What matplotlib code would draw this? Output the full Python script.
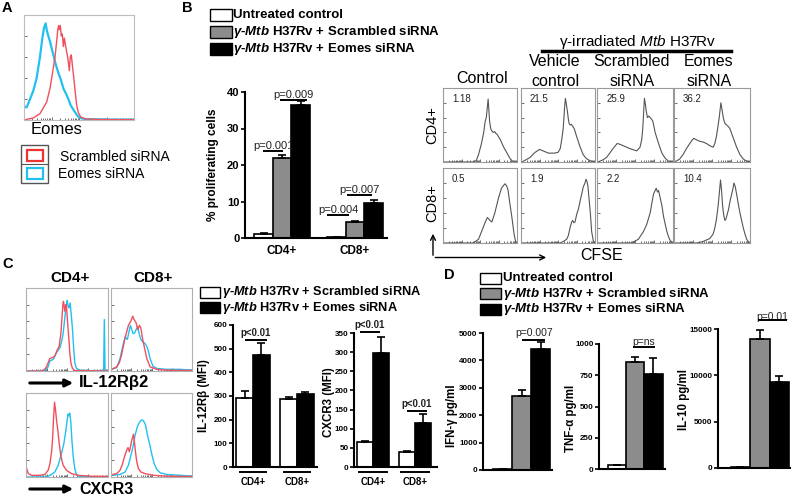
import numpy as np
import matplotlib
matplotlib.use('Agg')
import matplotlib.pyplot as plt
from matplotlib.patches import Rectangle, FancyArrowPatch
from matplotlib.lines import Line2D
import matplotlib.transforms as mtransforms
from matplotlib import font_manager

plt.rcParams['font.family'] = ['Liberation Sans', 'DejaVu Sans']
plt.rcParams['mathtext.fontset'] = 'custom'
plt.rcParams['mathtext.rm'] = 'Liberation Sans'
plt.rcParams['mathtext.it'] = 'Liberation Sans:italic:bold'
plt.rcParams['mathtext.sf'] = 'Liberation Sans:italic'
plt.rcParams['mathtext.bf'] = 'Liberation Sans:bold'

_names = {f.name for f in font_manager.fontManager.ttflist}
NARROW = ['Liberation Sans Narrow', 'Liberation Sans'] if 'Liberation Sans Narrow' in _names else ['Liberation Sans']

# ---------------- DATA ----------------
# Panel A histograms (x: % of fluorescence range, y: % of max)
a_scr_x = [0, 8.5, 14.5, 20.6, 23.6, 25.2, 26.7, 28.2, 29.7, 30.6, 31.5, 32.1, 33.0, 33.9, 34.8, 35.8,
           36.7, 37.6, 38.8, 40.0, 41.2, 42.1, 43.0, 44.2, 45.5, 46.7, 47.9, 49.4, 51.5, 55.5, 69.1, 100]
a_scr_y = [0, 2, 6, 17, 30, 40, 50, 60, 75, 85, 90, 86, 90, 80, 82, 70,
           78, 72, 65, 58, 47, 60, 62, 50, 38, 25, 14, 7, 3, 1, 0.5, 0.3]
a_eom_x = [0, 2.4, 5.5, 8.5, 11.5, 14.5, 16.7, 18.2, 19.7, 20.6, 22.1, 23.6, 25.2, 26.7, 29.1, 31.2,
           33.6, 35.8, 38.2, 40.3, 42.4, 44.8, 47.3, 49.4, 52.4, 57, 69, 100]
a_eom_y = [13, 12, 20, 28, 40, 60, 78, 88, 92, 86, 80, 75, 68, 62, 52, 45,
           38, 30, 25, 20, 14, 10, 6, 3, 1.5, 0.8, 0.5, 0.3]

# Panel B bar chart
b_groups = ['CD4+', 'CD8+']
b_untreated = [1.2, 0.2]
b_untreated_err = [0.3, 0.0]
b_scrambled = [21.8, 4.3]
b_scrambled_err = [1.0, 0.4]
b_eomes = [36.5, 9.5]
b_eomes_err = [1.0, 1.0]
b_pvals = ['p=0.001', 'p=0.009', 'p=0.004', 'p=0.007']
b_pline_y = [23.9, 37.8, 6.2, 11.9]
b_pline_x = [(-0.26, 0.014), (-0.027, 0.342), (0.616, 0.918), (0.89, 1.233)]

# Panel B CFSE histograms
b_cols = ['Control', 'Vehicle\ncontrol', 'Scrambled\nsiRNA', 'Eomes\nsiRNA']
b_rows = ['CD4+', 'CD8+']
b_pct = [['1.18', '21.5', '25.9', '36.2'], ['0.5', '1.9', '2.2', '10.4']]
cd4_ctrl_x = [0, 41, 45, 48, 52, 55, 57, 58.5, 60, 61, 62, 63, 64.5, 66, 68, 70, 71, 72.5, 74, 77.5, 82, 86.5, 91, 95.5, 100]
cd4_ctrl_y = [0, 0, 2, 10, 25, 40, 55, 60, 75, 85, 70, 55, 45, 42, 40, 41, 39, 38, 36, 30, 20, 12, 4, 0, 0]
cd4_veh_x = [0, 1, 5, 12, 19, 25, 30, 37, 45, 50, 53, 55, 57, 58, 59, 60, 61, 62.5, 64, 65, 66.5, 68, 70, 72, 75, 80, 84, 88, 91, 95, 98, 100]
cd4_veh_y = [0, 0, 2, 6, 13, 17, 15, 12, 12, 13, 18, 30, 45, 60, 75, 86, 80, 70, 58, 52, 50, 51, 48, 45, 35, 20, 10, 5, 3, 1, 0, 0]
cd4_scr_x = [0, 1.3, 8, 12.4, 16.8, 21, 26.5, 30, 34.5, 43.4, 52.2, 56.6, 58.8, 60.2, 61, 62.4, 63.7, 64.6, 66.4, 68, 70,
             71.7, 73.5, 76.5, 81, 85.4, 89.8, 94.2, 98.7, 100]
cd4_scr_y = [0, 0, 3, 6, 12, 18, 25, 24, 22, 18, 15, 20, 30, 45, 60, 86, 78, 70, 60, 62, 60,
             58, 55, 40, 25, 12, 5, 1, 0, 0]
cd4_eom_x = [0, 0.9, 7.5, 11.9, 16.3, 20.7, 24.2, 26, 29.5, 33.9, 38.3, 42.7, 47.1, 51.5, 53.7, 55.9, 58.1, 59.5, 61.7, 63,
             64.8, 67, 69.2, 71.4, 73.6, 77.1, 82.4, 86.8, 91.2, 95.6, 99, 100]
cd4_eom_y = [0, 0, 4, 10, 18, 25, 30, 32, 30, 28, 27, 25, 22, 20, 25, 35, 50, 60, 80, 72,
             60, 52, 50, 48, 45, 35, 20, 10, 4, 1, 0, 0]
cd8_ctrl_x = [0, 41, 48, 54, 58, 60, 63.5, 66, 70, 75, 79, 82, 84, 86, 88, 90, 93, 96, 98.5, 100]
cd8_ctrl_y = [0, 0, 5, 20, 30, 34, 30, 28, 40, 60, 73, 77, 79, 76, 70, 55, 35, 12, 0, 0]
cd8_veh_x = [0, 52.7, 57.2, 61.7, 64, 66.2, 68.5, 69.8, 71.6, 73, 75.2, 77.5, 79.7, 82, 84.2, 86.5, 87.8, 89.2, 90.5,
             92.3, 93.7, 95.5, 97.7, 100]
cd8_veh_y = [0, 0, 2, 5, 10, 20, 28, 30, 27, 28, 38, 45, 55, 65, 75, 80, 85, 82, 75,
             55, 40, 15, 3, 0]
cd8_scr_x = [0, 45.6, 54.4, 61, 65.5, 69.9, 72, 74.3, 76.5, 77.9, 79.6, 81, 83.2, 85.4, 87.6, 89.8, 92, 94.2, 96.5, 98.7, 100]
cd8_scr_y = [0, 0, 5, 15, 25, 40, 52, 65, 70, 73, 68, 70, 60, 50, 35, 25, 15, 8, 3, 1, 0]
cd8_eom_x = [0, 29.5, 38.3, 47.1, 51.5, 53.7, 55.9, 58.1, 59.5, 61.2, 62.6, 63.9, 65.6, 67, 68.3, 70, 71.8, 73.6, 75.8,
             77.1, 78.9, 80.6, 82.4, 84.6, 86.8, 89, 91.2, 93.4, 95.6, 99, 100]
cd8_eom_y = [0, 0, 2, 6, 12, 20, 32, 50, 65, 84, 70, 50, 36, 30, 32, 38, 45, 55, 65,
             70, 80, 75, 65, 52, 40, 30, 20, 12, 5, 0, 0]

# Panel C histograms (red = scrambled siRNA, cyan = Eomes siRNA)
c_il_cd4_scr_x = [0, 21, 25, 29, 32, 35, 38, 40.5, 42.5, 43.7, 45, 45.7, 46.6, 47.4, 48.6, 49.4, 50.6, 52.2, 53.4, 54.7, 56.7, 59.5, 100]
c_il_cd4_scr_y = [0, 0, 5, 15, 16, 18, 25, 30, 45, 62, 80, 84, 78, 72, 80, 78, 60, 40, 22, 10, 3, 0.5, 0]
c_il_cd4_eom_x = [0, 23, 27, 29, 33.2, 37.2, 41.3, 43.3, 45.3, 46.9, 48.2, 49.4, 50.2, 51.4, 52.6, 53.8, 55, 56.7, 58.3,
                  59.5, 61.5, 65.6, 73.7, 94.7, 95.5, 96.4, 100]
c_il_cd4_eom_y = [0, 0, 5, 12, 14, 22, 28, 35, 45, 60, 72, 80, 85, 78, 76, 82, 70, 50, 25,
                  10, 3, 1, 0.5, 0.5, 62, 0.5, 0.3]
c_il_cd8_scr_x = [0.8, 7, 10.3, 13.2, 17.4, 21.5, 24.4, 26.9, 28.5, 31, 33, 35.1, 36.8, 38.8, 40.9, 44.2, 48.3, 56.6, 69, 100]
c_il_cd8_scr_y = [2, 5, 10, 20, 40, 55, 60, 66, 62, 58, 50, 55, 52, 40, 30, 15, 5, 2, 1, 0.5]
c_il_cd8_eom_x = [0.8, 7, 11.2, 14.5, 17.4, 20.2, 22.3, 24, 25.6, 27.3, 29.3, 31, 33, 34.7, 36.8, 39.3, 42.1, 45, 48.3,
                  51.7, 56.6, 69, 85.5, 100]
c_il_cd8_eom_y = [2, 4, 15, 30, 41, 38, 48, 55, 50, 45, 46, 50, 53, 45, 38, 35, 33, 28, 15,
                  6, 3, 2, 2, 1]
c_cx_cd4_scr_x = [0.8, 2.8, 6.9, 17, 23, 27, 29, 31.2, 32.4, 33.6, 34.8, 36, 37.2, 38.9, 40.5, 42.5, 45.3, 49.4, 55.5,
                  63.6, 77.7, 100]
c_cx_cd4_scr_y = [10, 4, 2, 2, 3, 8, 15, 30, 45, 70, 89, 80, 68, 55, 40, 25, 14, 8, 4,
                  2, 1, 0.5]
c_cx_cd4_eom_x = [0, 25, 31.2, 35.2, 39.3, 43.3, 46.2, 48.6, 50.2, 51.4, 52.2, 53.4, 54.7, 55.9, 57.5, 59.5, 61.5, 65.6, 100]
c_cx_cd4_eom_y = [0, 0, 3, 6, 14, 28, 40, 55, 68, 75, 73, 76, 65, 45, 25, 10, 3, 0.5, 0]
c_cx_cd8_scr_x = [2, 7, 11.2, 14, 16.9, 19.4, 21, 22.7, 24.4, 26, 27.7, 28.9, 30.2, 31.8, 33.9, 36.8, 42.1, 52.5, 69, 100]
c_cx_cd8_scr_y = [3, 4, 8, 15, 25, 32, 35, 30, 38, 45, 51, 42, 30, 18, 10, 6, 4, 2, 1, 0.5]
c_cx_cd8_eom_x = [2, 11.2, 17.4, 21.5, 24.4, 26.9, 29.8, 32.6, 35.1, 37.6, 40.1, 42.6, 45, 47.5, 50.4, 53.3, 56.6, 60.7,
                  69, 85.5, 100]
c_cx_cd8_eom_y = [2, 3, 6, 14, 25, 35, 50, 60, 65, 68, 67, 62, 50, 40, 27, 16, 9, 5,
                  3, 2, 1]

# Panel C bar charts (MFI)
c_groups = ['CD4+', 'CD8+']
c_il12_scr = [293, 289]
c_il12_scr_err = [27, 5]
c_il12_eom = [473, 308]
c_il12_eom_err = [52, 8]
c_cxcr3_scr = [64, 38]
c_cxcr3_scr_err = [3, 5]
c_cxcr3_eom = [297, 115]
c_cxcr3_eom_err = [43, 23]

# Panel D cytokines (untreated, scrambled, Eomes)
d_ifng = [50, 2700, 4400]
d_ifng_err = [0, 230, 260]
d_tnfa = [30, 860, 760]
d_tnfa_err = [0, 35, 125]
d_il10 = [100, 13900, 9300]
d_il10_err = [0, 1000, 600]

# ---------------- FIGURE ----------------
W, H = 800, 495
fig = plt.figure(figsize=(8, 4.95), dpi=100)

RED = '#f0505e'
CYAN = '#22c0f0'
GRAY = '#8c8c8c'


def rect(x0, y0, x1, y1):
    return [x0 / W, 1 - y1 / H, (x1 - x0) / W, (y1 - y0) / H]


def T(x, y, s, **kw):
    kw.setdefault('va', 'center')
    return fig.text(x / W, 1 - y / H, s, **kw)


def fbox(x0, y0, x1, y1, **kw):
    fig.add_artist(Rectangle((x0 / W, 1 - y1 / H), (x1 - x0) / W, (y1 - y0) / H,
                             transform=fig.transFigure, **kw))


def fline(xs, ys, **kw):
    fig.add_artist(Line2D([x / W for x in xs], [1 - y / H for y in ys], transform=fig.transFigure, **kw))


def farrow(x0, y0, x1, y1, **kw):
    fig.add_artist(FancyArrowPatch((x0 / W, 1 - y0 / H), (x1 / W, 1 - y1 / H),
                                   transform=fig.transFigure, **kw))


def hist_ax(r, curves, frame='#a0a0a0'):
    ax = fig.add_axes(rect(*r))
    for xs, ys, c, lw in curves:
        ax.plot(xs, ys, color=c, lw=lw, solid_joinstyle='round')
    ax.set_xlim(0, 100)
    ax.set_ylim(0, 100)
    ax.set_xticks(np.arange(0, 101, 25))
    minor = [d + 25 * np.log10(k) for d in (0, 25, 50, 75) for k in range(2, 10)]
    ax.set_xticks(minor, minor=True)
    ax.set_yticks(np.arange(0, 101, 20))
    ax.tick_params(which='both', direction='in', labelleft=False, labelbottom=False,
                   color='#555555', width=0.6)
    ax.tick_params(which='major', length=2.5)
    ax.tick_params(which='minor', length=1.3)
    for s in ax.spines.values():
        s.set_color(frame)
        s.set_linewidth(0.8)
    return ax


def bar_ax(r, xlim, ylim, yticks, fs, family=None):
    ax = fig.add_axes(rect(*r))
    ax.set_xlim(*xlim)
    ax.set_ylim(*ylim)
    for s in ('top', 'right'):
        ax.spines[s].set_visible(False)
    for s in ('left', 'bottom'):
        ax.spines[s].set_linewidth(1.5)
    ax.set_xticks([])
    ax.set_yticks(yticks)
    kw = {}
    if family is not None:
        kw['family'] = family
    ax.set_yticklabels([str(t) for t in yticks], fontsize=fs, fontweight='bold', **kw)
    ax.tick_params(axis='y', length=3, width=1.2, pad=1)
    ax.patch.set_alpha(0)
    return ax


def draw_bars(ax, xs, vals, errs, color, w):
    ax.bar(xs, vals, w, color=color, edgecolor='black', linewidth=1.2, zorder=2, clip_on=False)
    ax.errorbar(xs, vals, yerr=[np.zeros(len(vals)), errs], fmt='none', ecolor='black',
                elinewidth=1.2, capsize=3, capthick=1.2, zorder=3, clip_on=False)


def pmark(ax, x0, x1, y, label, fs, weight='normal', gap=0):
    ax.plot([x0, x1], [y, y], color='black', lw=1.4, clip_on=False, solid_capstyle='butt', zorder=4)
    tr = mtransforms.offset_copy(ax.transData, fig=fig, x=0, y=gap, units='dots')
    ax.text((x0 + x1) / 2, y, label, transform=tr, ha='center', va='bottom', fontsize=fs,
            fontweight=weight, color='#222222', clip_on=False)


# ===== Panel letters =====
for letter, (x, y) in zip('ABCD', [(7, 8), (187, 8), (8, 264), (449, 275)]):
    T(x, y, letter, ha='center', fontsize=10.5, fontweight='bold')

# ===== Panel A =====
axA = hist_ax((24, 15, 134, 120), [(a_eom_x, a_eom_y, CYAN, 1.6), (a_scr_x, a_scr_y, RED, 1.0)],
              frame='#bdbdbd')
T(31, 130, 'Eomes', ha='left', fontsize=12)
fbox(21, 145, 48, 183, fill=False, edgecolor='#555555', lw=1.0)
fline([21, 48], [164, 164], color='#555555', lw=0.8)
fbox(27, 150, 43, 161, fill=False, edgecolor='#ee3333', lw=1.6)
fbox(27, 168, 43, 179, fill=False, edgecolor=CYAN, lw=1.6)
T(60, 157, 'Scrambled siRNA', ha='left', fontsize=10)
T(58, 174, 'Eomes siRNA', ha='left', fontsize=10)

# ===== Panel B legend =====
leg_b = ['Untreated control', r'$\mathit{\gamma}$-$\mathit{Mtb}$ H37Rv + Scrambled siRNA',
         r'$\mathit{\gamma}$-$\mathit{Mtb}$ H37Rv + Eomes siRNA']
for (lab, col), yc in zip(zip(leg_b, ['white', GRAY, 'black']), [15, 32, 49]):
    fbox(210, yc - 5.5, 232, yc + 5.5, facecolor=col, edgecolor='black', lw=1.0)
    T(233, yc, lab, ha='left', fontsize=9.5, fontweight='bold')

# ===== Panel B bar chart =====
axB = bar_ax((245, 92, 387, 238), (-0.507, 1.438), (0, 40), [0, 10, 20, 30, 40], 8)
wB = 0.2534
xg = np.arange(len(b_groups))
draw_bars(axB, xg - wB, b_untreated, b_untreated_err, 'white', wB)
draw_bars(axB, xg, b_scrambled, b_scrambled_err, GRAY, wB)
draw_bars(axB, xg + wB, b_eomes, b_eomes_err, 'black', wB)
for lab, yv, (x0, x1) in zip(b_pvals, b_pline_y, b_pline_x):
    pmark(axB, x0, x1, yv, lab, 8, gap=0)
trB = mtransforms.blended_transform_factory(axB.transData, axB.transAxes)
for g, lab in zip(xg, b_groups):
    axB.text(g, -0.09, lab, transform=trB, ha='center', va='center', fontsize=8.5, fontweight='bold')
T(213, 165, '% proliferating cells', ha='center', rotation=90, fontsize=8.5, fontweight='bold')

# ===== Panel B CFSE histograms =====
b_col_px = [(443, 517), (521, 595), (597, 673), (674, 750)]
b_row_px = [(88, 162), (168, 243)]
b_curves = [[(cd4_ctrl_x, cd4_ctrl_y), (cd4_veh_x, cd4_veh_y), (cd4_scr_x, cd4_scr_y), (cd4_eom_x, cd4_eom_y)],
            [(cd8_ctrl_x, cd8_ctrl_y), (cd8_veh_x, cd8_veh_y), (cd8_scr_x, cd8_scr_y), (cd8_eom_x, cd8_eom_y)]]
for ri, (y0, y1) in enumerate(b_row_px):
    for ci, (x0, x1) in enumerate(b_col_px):
        cx, cy = b_curves[ri][ci]
        ax = hist_ax((x0, y0, x1, y1), [(cx, cy, '#555555', 0.8)], frame='#9a9a9a')
        ax.text(0.12, 0.85, b_pct[ri][ci], transform=ax.transAxes, ha='left', va='center',
                fontsize=7, color='#222222')
T(482, 78.5, b_cols[0], ha='center', fontsize=11.5)
for (x0, x1), lab in zip(b_col_px[1:], b_cols[1:]):
    l1, l2 = lab.split('\n')
    T((x0 + x1) / 2 - 3, 61.5, l1, ha='center', fontsize=11.5)
    T((x0 + x1) / 2 - 3, 81.5, l2, ha='center', fontsize=11.5)
T(637, 42, r'γ-irradiated $\mathsf{Mtb}$ H37Rv', ha='center', fontsize=11)
fline([542, 731], [51, 51], color='black', lw=2.5)
for lab, yc in zip(b_rows, [125, 203]):
    T(432, yc, lab, ha='center', rotation=90, fontsize=10.5)
farrow(433, 258, 433, 231, arrowstyle='->', mutation_scale=9, lw=1.0, color='black')
farrow(432.5, 257.5, 549, 257.5, arrowstyle='->', mutation_scale=9, lw=1.0, color='black')
T(602, 256, 'CFSE', ha='center', fontsize=11.5)

# ===== Panel C histograms =====
T(70, 278, 'CD4+', ha='center', fontsize=11, fontweight='bold')
T(153, 278, 'CD8+', ha='center', fontsize=11, fontweight='bold')
c_col_px = [(26, 108), (111, 192)]
c_row_px = [(288, 371), (393, 477)]
c_curves = [[(c_il_cd4_scr_x, c_il_cd4_scr_y, c_il_cd4_eom_x, c_il_cd4_eom_y),
             (c_il_cd8_scr_x, c_il_cd8_scr_y, c_il_cd8_eom_x, c_il_cd8_eom_y)],
            [(c_cx_cd4_scr_x, c_cx_cd4_scr_y, c_cx_cd4_eom_x, c_cx_cd4_eom_y),
             (c_cx_cd8_scr_x, c_cx_cd8_scr_y, c_cx_cd8_eom_x, c_cx_cd8_eom_y)]]
for ri, (y0, y1) in enumerate(c_row_px):
    for ci, (x0, x1) in enumerate(c_col_px):
        sx, sy, ex, ey = c_curves[ri][ci]
        hist_ax((x0, y0, x1, y1), [(ex, ey, CYAN, 1.0), (sx, sy, RED, 1.0)], frame='#b0b0b0')
farrow(27, 383, 76, 383, arrowstyle='-|>', mutation_scale=11, lw=2.2, color='black')
T(79, 382, 'IL-12Rβ2', ha='left', fontsize=12, fontweight='bold')
farrow(27, 489, 76, 489, arrowstyle='-|>', mutation_scale=11, lw=2.2, color='black')
T(79, 489, 'CXCR3', ha='left', fontsize=11.5, fontweight='bold')

# ===== Panel C legend & bars =====
leg_c = [r'$\mathit{\gamma}$-$\mathit{Mtb}$ H37Rv + Scrambled siRNA',
         r'$\mathit{\gamma}$-$\mathit{Mtb}$ H37Rv + Eomes siRNA']
for (lab, col), yc in zip(zip(leg_c, ['white', 'black']), [292.5, 307.5]):
    fbox(200, yc - 5.5, 220, yc + 5.5, facecolor=col, edgecolor='black', lw=1.0)
    T(222, yc, lab, ha='left', fontsize=9.2, fontweight='bold')


def c_panel(r, xlim, ylim, yticks, scr, scr_err, eom, eom_err, w, uspan, ylabel, ylab_xy, pm):
    ax = bar_ax(r, xlim, ylim, yticks, 5.8, family=NARROW)
    g = np.arange(len(c_groups))
    draw_bars(ax, g - w / 2, scr, scr_err, 'white', w)
    draw_bars(ax, g + w / 2, eom, eom_err, 'black', w)
    tr = mtransforms.blended_transform_factory(ax.transData, ax.transAxes)
    hpx = r[3] - r[1]
    for gi, lab in zip(g, c_groups):
        ax.plot([gi - uspan, gi + uspan], [-5 / hpx, -5 / hpx], transform=tr, color='black', lw=1.4,
                clip_on=False)
        ax.text(gi, -15 / hpx, lab, transform=tr, ha='center', va='center', fontsize=7, fontweight='bold')
    for x0, x1, yv in pm:
        pmark(ax, x0, x1, yv, 'p<0.01', 7, weight='bold', gap=2)
    T(ylab_xy[0], ylab_xy[1], ylabel, ha='center', rotation=90, fontsize=8.3, fontweight='bold')
    return ax


c_panel((233, 325, 317, 467), (-0.4545, 1.4545), (0, 600), [0, 100, 200, 300, 400, 500, 600],
        c_il12_scr, c_il12_scr_err, c_il12_eom, c_il12_eom_err, 0.386, 0.3,
        'IL-12Rβ (MFI)', (204, 396), [(-0.18, 0.318, 536)])
c_panel((354, 333, 437, 467), (-0.452, 1.524), (0, 350), [0, 50, 100, 150, 200, 250, 300, 350],
        c_cxcr3_scr, c_cxcr3_scr_err, c_cxcr3_eom, c_cxcr3_eom_err, 0.39, 0.33,
        'CXCR3 (MFI)', (329, 402), [(-0.31, 0.167, 352), (0.81, 1.286, 147)])

# ===== Panel D =====
leg_d = ['Untreated control', r'$\mathit{\gamma}$-$\mathit{Mtb}$ H37Rv + Scrambled siRNA',
         r'$\mathit{\gamma}$-$\mathit{Mtb}$ H37Rv + Eomes siRNA']
for (lab, col), yc in zip(zip(leg_d, ['white', GRAY, 'black']), [278, 293.5, 309]):
    fbox(480, yc - 5.5, 501, yc + 5.5, facecolor=col, edgecolor='black', lw=1.0)
    T(503, yc, lab, ha='left', fontsize=9.5, fontweight='bold')


def d_panel(r, xlim, ylim, yticks, vals, errs, ylabel, ylab_xy, pm):
    ax = bar_ax(r, xlim, ylim, yticks, 5.8, family=NARROW)
    for i, (v, e, c) in enumerate(zip(vals, errs, ['white', GRAY, 'black'])):
        draw_bars(ax, [i], [v], [e], c, 1.0)
    x0, x1, yv, lab, gap = pm
    pmark(ax, x0, x1, yv, lab, 7.5, gap=gap)
    T(ylab_xy[0], ylab_xy[1], ylabel, ha='center', rotation=90, fontsize=8.3, fontweight='bold')
    return ax


d_panel((483, 333, 552, 470), (-1.03, 2.6), (0, 5000), [0, 1000, 2000, 3000, 4000, 5000],
        d_ifng, d_ifng_err, 'IFN-γ pg/ml', (452, 416), (1.03, 2.24, 4750, 'p=0.007', 2))
d_panel((599, 344, 665, 469), (-0.98, 2.63), (0, 1000), [0, 250, 500, 750, 1000],
        d_tnfa, d_tnfa_err, 'TNF-α pg/ml', (571, 418), (0.87, 2.08, 979, 'p=ns', 0))
d_panel((718, 329, 790, 468), (-1.15, 2.54), (0, 15000), [0, 5000, 10000, 15000],
        d_il10, d_il10_err, 'IL-10 pg/ml', (684, 400), (0.9, 2.38, 16012, 'p=0.01', -2))

fig.savefig('out.png', dpi=100)
